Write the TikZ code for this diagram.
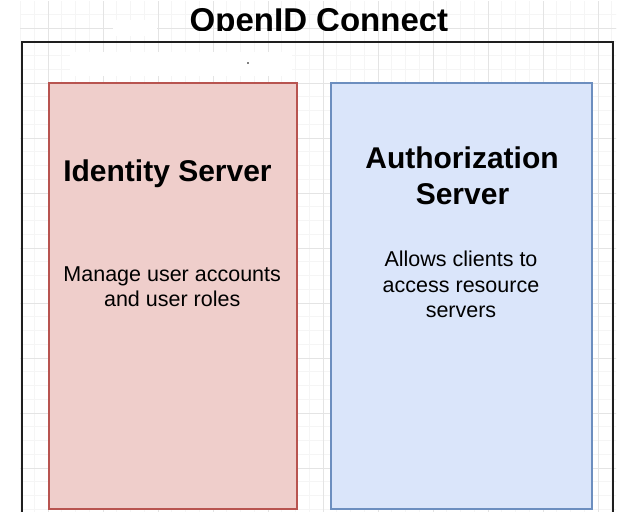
\documentclass[tikz,border=0pt]{standalone}
\usepackage{fontspec}
\setmainfont{Liberation Sans}
\definecolor{gridminor}{RGB}{245,245,245}
\definecolor{gridmajor}{RGB}{228,228,228}
\definecolor{redfill}{RGB}{239,206,203}
\definecolor{redline}{RGB}{184,84,80}
\definecolor{bluefill}{RGB}{218,229,250}
\definecolor{blueline}{RGB}{108,142,191}
\tikzset{
  panel/.style={draw, line width=1.5pt, inner sep=0pt, outer sep=0pt},
  headtext/.style={anchor=base, inner sep=0pt, font=\fontsize{30}{36}\selectfont\bfseries},
  bodytext/.style={anchor=base, inner sep=0pt, font=\fontsize{21.5}{25.5}\selectfont},
}
\begin{document}
\begin{tikzpicture}[x=1pt,y=-1pt]
\useasboundingbox (0,0) rectangle (622,512);
\fill[white] (0,0) rectangle (622,512);
% grid
\begin{scope}
\clip (20,1) rectangle (616,512);
\foreach \i in {-2,...,44} {
  \draw[gridminor, line width=0.8pt] ({20.5+13.75*\i},0) -- ({20.5+13.75*\i},512);
  \draw[gridminor, line width=0.8pt] (0,{0.5+13.75*\i}) -- (622,{0.5+13.75*\i});
}
\foreach \i in {-1,...,11} {
  \draw[gridmajor, line width=0.8pt] ({48+55*\i},0) -- ({48+55*\i},512);
  \draw[gridmajor, line width=0.8pt] (0,{28+55*\i}) -- (622,{28+55*\i});
}
\end{scope}
% white patches
\fill[white] (113,20) rectangle (157,36);
\fill[white] (70,52) rectangle (292,76);
% title (cut at the bottom)
\begin{scope}
\clip (0,0) rectangle (622,30.5);
\node[headtext, font=\fontsize{33}{40}\selectfont\bfseries] (title) at (319,31.6) {OpenID Connect};
\end{scope}
% outer frame
\node[panel, draw={rgb,255:red,30;green,30;blue,30}, minimum width=591pt, minimum height=480pt, anchor=north west] (frame) at (22,42) {};
\fill[black] (248,63) circle (0.8pt);
% boxes
\node[panel, fill=redfill, draw=redline, minimum width=248pt, minimum height=426pt, anchor=north west] (idbox) at (49,83) {};
\node[panel, fill=bluefill, draw=blueline, minimum width=261pt, minimum height=426pt, anchor=north west] (authbox) at (331,83) {};
% texts
\node[headtext] (idtitle) at (167.5,181.7) {Identity Server};
\node[bodytext] (iddesc1) at (172.2,281.7) {Manage user accounts};
\node[bodytext] (iddesc2) at (172.2,306.7) {and user roles};
\node[headtext] (authtitle1) at (462,168.3) {Authorization};
\node[headtext] (authtitle2) at (462.5,204) {Server};
\node[bodytext] (authdesc1) at (461,266) {Allows clients to};
\node[bodytext] (authdesc2) at (461,292) {access resource};
\node[bodytext] (authdesc3) at (461,317) {servers};
\end{tikzpicture}
\end{document}
